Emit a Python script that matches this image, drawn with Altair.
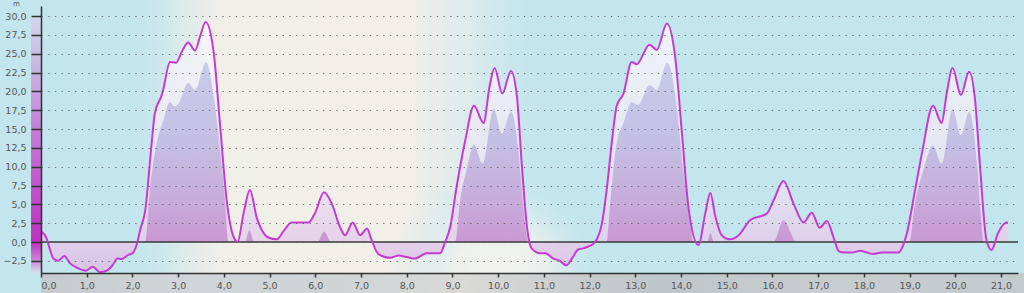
import altair as alt
import pandas as pd

# ---- data ----
t_main = [0.0, 0.12, 0.2, 0.27, 0.38, 0.51, 0.63, 0.78, 0.98, 1.13, 1.29, 1.44, 1.57, 1.67, 1.77, 1.91, 2.0,
          2.09, 2.17, 2.28, 2.42, 2.49, 2.64, 2.68, 2.82, 2.95, 3.1, 3.22, 3.37, 3.48, 3.6, 3.77, 3.92, 4.06,
          4.21, 4.3, 4.43, 4.57, 4.72, 4.83, 4.97, 5.16, 5.3, 5.48, 5.85, 5.99, 6.19, 6.36, 6.54, 6.65, 6.82,
          6.98, 7.13, 7.23, 7.38, 7.64, 7.82, 8.0, 8.18, 8.44, 8.73, 8.84, 8.95, 9.09, 9.28, 9.47, 9.68, 9.81,
          9.92, 10.09, 10.28, 10.41, 10.52, 10.63, 10.73, 10.92, 11.03, 11.21, 11.35, 11.49, 11.64, 11.75,
          11.86, 12.0, 12.12, 12.27, 12.38, 12.49, 12.59, 12.74, 12.92, 13.03, 13.31, 13.47, 13.69, 13.87,
          14.02, 14.16, 14.38, 14.53, 14.64, 14.75, 14.89, 15.07, 15.26, 15.51, 15.88, 16.03, 16.24, 16.46,
          16.68, 16.86, 17.03, 17.19, 17.33, 17.44, 17.5, 17.74, 17.92, 18.2, 18.39, 18.75, 18.86, 18.94,
          19.08, 19.27, 19.51, 19.7, 19.81, 19.94, 20.12, 20.3, 20.43, 20.54, 20.68, 20.79, 20.93, 21.12, 21.15]
v_main = [1.4, 0.5, -1.06, -2.2, -2.5, -1.86, -2.8, -3.4, -3.8, -3.3, -4.0, -3.8, -3.05, -2.2, -2.25, -1.7, -1.5,
          -0.4, 1.6, 4.2, 13.1, 17.1, 19.5, 20.4, 23.9, 23.8, 25.5, 26.5, 25.4, 27.3, 29.2, 25.5, 15.3, 5.6,
          0.7, 0.0, 3.8, 6.9, 3.2, 1.6, 0.6, 0.35, 1.4, 2.6, 2.6, 3.8, 6.6, 5.1, 2.0, 0.9, 2.6,
          0.9, 1.8, 0.27, -1.6, -2.1, -1.8, -2.0, -2.2, -1.5, -1.5, 0.0, 2.0, 7.3, 13.5, 18.1, 15.8, 20.6,
          23.1, 19.7, 22.7, 19.3, 10.0, 2.0, -0.85, -1.5, -1.5, -2.2, -2.5, -3.1, -1.95, -1.0,
          -0.85, -0.53, 0.0, 2.5, 7.3, 13.5, 18.0, 19.7, 23.9, 23.6, 26.2, 25.5, 29.0, 24.6,
          14.4, 4.7, -0.4, 3.8, 6.5, 3.4, 0.9, 0.35, 0.9, 2.9, 3.8, 5.6, 8.1, 5.1,
          2.6, 3.9, 1.9, 2.8, 0.7, -1.15, -1.35, -1.4, -1.15, -1.6, -1.4, -1.4, -0.4, 1.15,
          5.6, 11.8, 18.1, 15.8, 19.7, 23.1, 19.5, 22.6, 18.9, 10.0, 0.27, -1.06, 1.15, 2.6, 2.6]

t_inner = [0.0, 2.28, 2.38, 2.53, 2.68, 2.82, 2.92, 3.0, 3.22, 3.37, 3.61, 3.77, 3.92, 4.03, 4.1,
           4.46, 4.56, 4.66, 6.05, 6.19, 6.35,
           9.06, 9.17, 9.31, 9.47, 9.66, 9.9, 10.08, 10.28, 10.44, 10.55, 10.66,
           12.37, 12.45, 12.59, 12.74, 12.92, 13.06, 13.31, 13.47, 13.7, 13.87, 14.05, 14.2, 14.27,
           14.57, 14.64, 14.72, 16.02, 16.24, 16.53,
           19.0, 19.1, 19.3, 19.51, 19.7, 19.94, 20.12, 20.3, 20.48, 20.55, 20.62, 21.15]
v_inner = [0.0, 0.0, 6.9, 13.1, 16.2, 18.6, 18.0, 18.3, 21.1, 20.2, 23.9, 19.7, 12.2, 5.1, 0.0,
           0.0, 1.6, 0.0, 0.0, 1.4, 0.0,
           0.0, 5.6, 9.6, 12.9, 10.4, 17.7, 14.4, 17.3, 12.2, 4.7, 0.0,
           0.0, 5.1, 13.1, 15.8, 18.6, 18.2, 20.8, 20.2, 23.8, 19.7, 9.6, 2.5, 0.0,
           0.0, 1.2, 0.0, 0.0, 2.9, 0.0,
           0.0, 4.5, 9.5, 12.8, 10.4, 17.7, 14.2, 17.3, 10.0, 4.0, 0.0, 0.0]

y_ticks = [-2.5, 0.0, 2.5, 5.0, 7.5, 10.0, 12.5, 15.0, 17.5, 20.0, 22.5, 25.0, 27.5, 30.0]
x_ticks = list(range(0, 22))
unit_label = ["m"]

main = pd.DataFrame({"t": t_main, "v": v_main})
inner = pd.DataFrame({"t": t_inner, "v": v_inner})
one = pd.DataFrame({"k": [0]})
unit = pd.DataFrame({"u": unit_label})
zero = pd.DataFrame({"t": [0.0], "v": [0.0]})

W, H = 977, 267
xs = alt.Scale(domain=[0, 21.37], nice=False, zero=False)
ys = alt.Scale(domain=[-4.115, 31.33], nice=False, zero=False)
fmt = "replace(format(datum.value, '.1f'), '.', ',')"


def stop(c, o):
    return alt.GradientStop(color=c, offset=o)


def radial(stops):
    return alt.RadialGradient(gradient="radial", stops=stops, x1=0.5, y1=0.5, r1=0,
                              x2=0.5, y2=0.5, r2=0.5)


def linear(stops, horizontal=False):
    if horizontal:
        return alt.LinearGradient(gradient="linear", stops=stops, x1=0, y1=0, x2=1, y2=0)
    return alt.LinearGradient(gradient="linear", stops=stops, x1=0, y1=0, x2=0, y2=1)


# ---- background decoration ----
spotA = alt.Chart(one).mark_rect(
    fill=linear([stop("rgba(194,229,238,0)", 0), stop("rgba(226,236,234,0.8)", 0.14),
                 stop("rgba(240,239,232,1)", 0.22), stop("rgba(241,239,232,1)", 0.66),
                 stop("rgba(226,236,236,0.8)", 0.8), stop("rgba(194,229,238,0)", 1)], horizontal=True)
).encode(x=alt.value(79), x2=alt.value(519), y=alt.value(-6), y2=alt.value(H))

spotB = alt.Chart(one).mark_rect(
    fill=radial([stop("rgba(242,242,238,1)", 0), stop("rgba(240,241,237,0.9)", 0.4),
                 stop("rgba(194,229,238,0)", 1)])
).encode(x=alt.value(349), x2=alt.value(569), y=alt.value(159), y2=alt.value(379))

band = alt.Chart(one).mark_rect(
    fill=linear([stop("#c4cacd", 0), stop("#d0d6d8", 0.14), stop("#cfd4d5", 0.3),
                 stop("#dadad8", 0.43), stop("#c6cbcd", 0.56), stop("#bfc7cb", 0.63),
                 stop("#c8cdcf", 0.8), stop("#c3cbcf", 1)], horizontal=True)
).encode(x=alt.value(0), x2=alt.value(W + 6), y=alt.value(H), y2=alt.value(H + 20))

strip = alt.Chart(one).mark_rect(
    fill=linear([stop("#d2d6ec", 0), stop("#cbbde4", 0.147), stop("#c8a4de", 0.29),
                 stop("#c47ed6", 0.44), stop("#c264ce", 0.586), stop("#c048c6", 0.73),
                 stop("#c030c0", 0.879), stop("#c88ad6", 0.953), stop("#d4e2f0", 1)])
).encode(x=alt.value(-10), x2=alt.value(0), y=alt.value(10), y2=alt.value(H))

# ---- data marks ----
X = alt.X("t:Q", scale=xs, title=None,
          axis=alt.Axis(values=x_ticks, labelExpr=fmt, grid=False, tickSize=4, labelPadding=3,
                        labelOverlap=False, zindex=2))
Y = alt.Y("v:Q", scale=ys, title=None,
          axis=alt.Axis(values=y_ticks, labelExpr=fmt, grid=True, tickSize=10, labelPadding=5,
                        labelOverlap=False, zindex=2,
                        gridDash=[1.3, 5.4], gridColor="#5a5a5a", gridWidth=1.2, gridOpacity=0.85))

main_area = alt.Chart(main).mark_area(
    interpolate="monotone", fillOpacity=0.85,
    fill=linear([stop("#f7f7fc", 0), stop("#eeecf6", 0.35), stop("#e6def0", 0.7),
                 stop("#e4ccea", 0.877), stop("#dabee2", 1)])
).encode(x=X, y=Y, y2=alt.datum(0))

inner_area = alt.Chart(inner).mark_area(
    interpolate="monotone", fillOpacity=0.82,
    fill=linear([stop("#bfc4e6", 0), stop("#bcb6e0", 0.45), stop("#c29ed6", 0.8),
                 stop("#c48ccc", 1)])
).encode(x=X, y=Y, y2=alt.datum(0))

zero_rule = alt.Chart(zero).mark_rule(color="#3a3a3a", strokeWidth=1.5).encode(
    y=Y, x=alt.value(0), x2=alt.value(W))

line = alt.Chart(main).mark_line(interpolate="monotone", color="#c43ccf", strokeWidth=2).encode(
    x=X, y=Y)

unit_text = alt.Chart(unit).mark_text(
    font="DejaVu Sans", fontSize=7, color="#555555", align="left", baseline="middle"
).encode(text="u:N", x=alt.value(-28), y=alt.value(-2))

chart = alt.layer(
    spotA, spotB, band, strip, main_area, inner_area, zero_rule, line, unit_text
).properties(
    width=W, height=H,
    autosize=alt.AutoSizeParams(type="none"),
    padding={"left": 41, "top": 6, "right": 6, "bottom": 20},
).configure(
    background="#c2e5ee"
).configure_view(
    stroke=None
).configure_axis(
    domainColor="#333333", domainWidth=1.5, tickColor="#333333", tickWidth=1.5,
    labelFont="DejaVu Sans", labelFontSize=9.5, labelColor="#555555"
)

chart.save("out.html", embed_options={"renderer": "svg", "actions": False})
